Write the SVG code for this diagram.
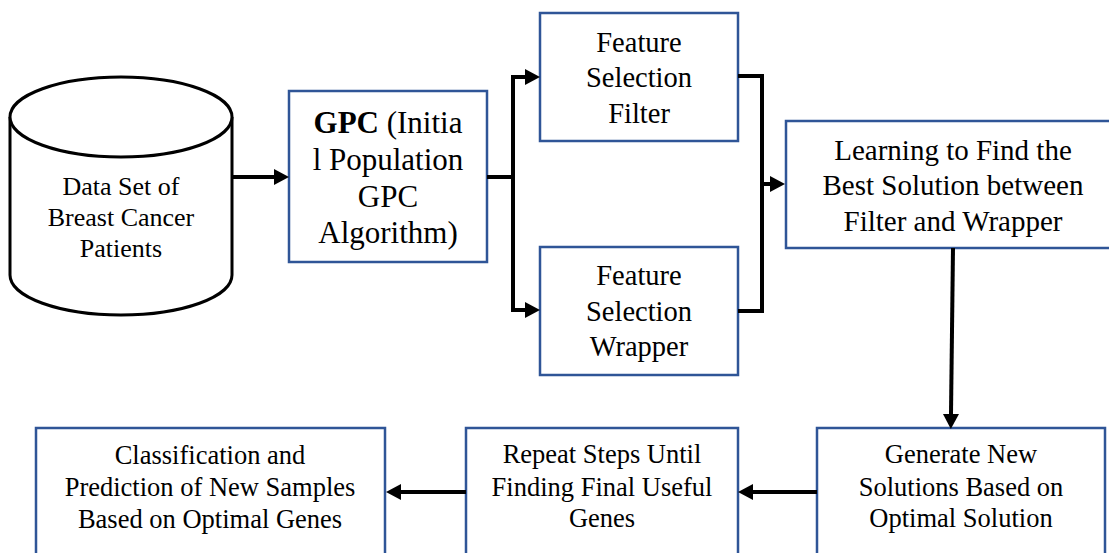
<svg xmlns="http://www.w3.org/2000/svg" width="1109" height="553" viewBox="0 0 1109 553">
  <style>
    .box { fill: #ffffff; stroke: #2F5597; stroke-width: 2.5; }
    .cyl { fill: #ffffff; stroke: #000000; stroke-width: 3; }
    .t { font-family: 'Liberation Serif', 'Times New Roman', serif; fill: #000000; text-anchor: middle; }
    .conn { fill: none; stroke: #000000; stroke-width: 4; stroke-linejoin: miter; }
  </style>
  <defs>
    <marker id="ah" markerUnits="userSpaceOnUse" markerWidth="16" markerHeight="18" refX="0" refY="8" orient="auto" overflow="visible">
      <path d="M0,0 L15,8 L0,16 Z" fill="#000000"/>
    </marker>
  </defs>
  <rect width="1109" height="553" fill="#ffffff"/>

  <g id="node-dataset">
    <path class="cyl" d="M10,117 A111,40 0 0 1 232,117 V275 A111,40 0 0 1 10,275 Z"/>
    <path class="cyl" d="M10,117 A111,40 0 0 0 232,117" fill="none"/>
    <text class="t" style="font-family: 'Liberation Serif', serif" font-size="26" x="121" y="195">Data Set of</text>
    <text class="t" style="font-family: 'Liberation Serif', serif" font-size="26" x="121" y="226">Breast Cancer</text>
    <text class="t" style="font-family: 'Liberation Serif', serif" font-size="26" x="121" y="257">Patients</text>
  </g>

  <g id="node-gpc">
    <rect class="box" x="289" y="91" width="198" height="171"/>
    <text class="t" style="font-family: 'Liberation Serif', serif" font-size="31" x="388" y="133"><tspan font-weight="bold">GPC</tspan> (Initia</text>
    <text class="t" style="font-family: 'Liberation Serif', serif" font-size="31" x="388" y="170">l Population</text>
    <text class="t" style="font-family: 'Liberation Serif', serif" font-size="31" x="388" y="207">GPC</text>
    <text class="t" style="font-family: 'Liberation Serif', serif" font-size="31" x="388" y="243">Algorithm)</text>
  </g>

  <g id="node-filter">
    <rect class="box" x="540" y="13" width="198" height="128"/>
    <text class="t" style="font-family: 'Liberation Serif', serif" font-size="28.5" x="639" y="52">Feature</text>
    <text class="t" style="font-family: 'Liberation Serif', serif" font-size="28.5" x="639" y="87">Selection</text>
    <text class="t" style="font-family: 'Liberation Serif', serif" font-size="28.5" x="639" y="123">Filter</text>
  </g>

  <g id="node-wrapper">
    <rect class="box" x="540" y="247" width="198" height="128"/>
    <text class="t" style="font-family: 'Liberation Serif', serif" font-size="28.5" x="639" y="285">Feature</text>
    <text class="t" style="font-family: 'Liberation Serif', serif" font-size="28.5" x="639" y="321">Selection</text>
    <text class="t" style="font-family: 'Liberation Serif', serif" font-size="28.5" x="639" y="356">Wrapper</text>
  </g>

  <g id="node-learning">
    <rect class="box" x="786" y="121" width="340" height="127"/>
    <text class="t" style="font-family: 'Liberation Serif', serif" font-size="29" x="953" y="160">Learning to Find the</text>
    <text class="t" style="font-family: 'Liberation Serif', serif" font-size="29" x="953" y="195">Best Solution between</text>
    <text class="t" style="font-family: 'Liberation Serif', serif" font-size="29" x="953" y="231">Filter and Wrapper</text>
  </g>

  <g id="node-generate">
    <rect class="box" x="817" y="428" width="288" height="140"/>
    <text class="t" style="font-family: 'Liberation Serif', serif" font-size="26.5" x="961" y="463">Generate New</text>
    <text class="t" style="font-family: 'Liberation Serif', serif" font-size="26.5" x="961" y="496">Solutions Based on</text>
    <text class="t" style="font-family: 'Liberation Serif', serif" font-size="26.5" x="961" y="527">Optimal Solution</text>
  </g>

  <g id="node-repeat">
    <rect class="box" x="466" y="428" width="272" height="140"/>
    <text class="t" style="font-family: 'Liberation Serif', serif" font-size="26.5" x="602" y="463">Repeat Steps Until</text>
    <text class="t" style="font-family: 'Liberation Serif', serif" font-size="26.5" x="602" y="496">Finding Final Useful</text>
    <text class="t" style="font-family: 'Liberation Serif', serif" font-size="26.5" x="602" y="527">Genes</text>
  </g>

  <g id="node-classification">
    <rect class="box" x="36" y="428" width="349" height="140"/>
    <text class="t" style="font-family: 'Liberation Serif', serif" font-size="26.5" x="210" y="464">Classification and</text>
    <text class="t" style="font-family: 'Liberation Serif', serif" font-size="26.5" x="210" y="496">Prediction of New Samples</text>
    <text class="t" style="font-family: 'Liberation Serif', serif" font-size="26.5" x="210" y="528">Based on Optimal Genes</text>
  </g>

  <g id="connectors">
    <path class="conn" d="M232,177 H274" marker-end="url(#ah)"/>
    <path class="conn" d="M487,177 H513"/>
    <path class="conn" d="M513,177 V77 H525" marker-end="url(#ah)"/>
    <path class="conn" d="M513,177 V310 H525" marker-end="url(#ah)"/>
    <path class="conn" d="M738,76 H762 V311 H738"/>
    <path class="conn" d="M762,184 H770" marker-end="url(#ah)"/>
    <path class="conn" d="M953,248 L951,414" stroke-width="3.5" marker-end="url(#ah)"/>
    <path class="conn" d="M817,492 H753" marker-end="url(#ah)"/>
    <path class="conn" d="M466,492 H401" marker-end="url(#ah)"/>
  </g>
</svg>
